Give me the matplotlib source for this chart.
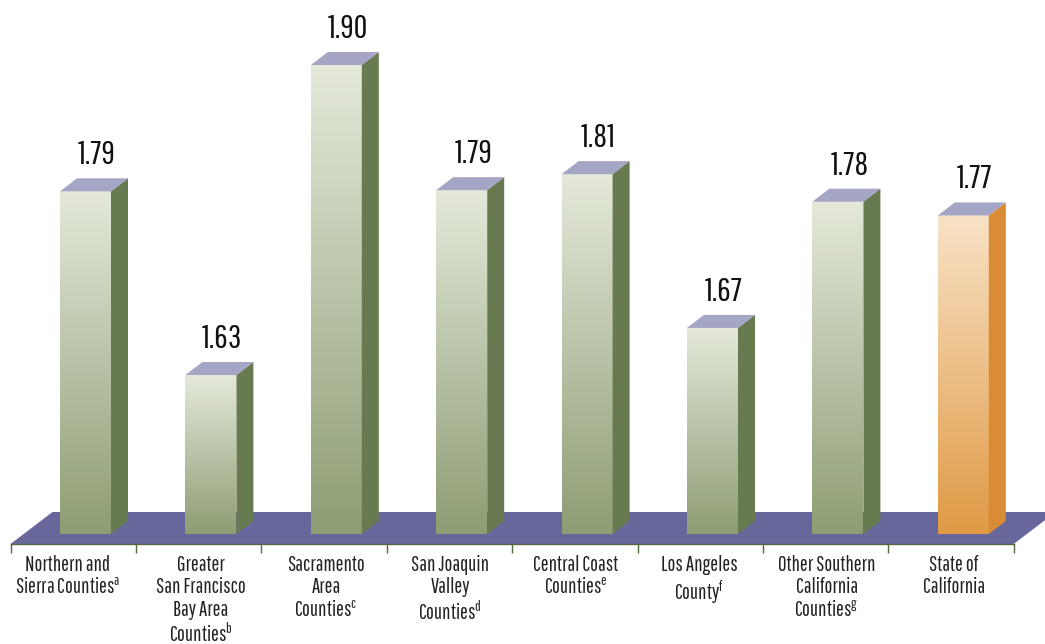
import matplotlib
matplotlib.use('Agg')
import matplotlib.pyplot as plt
import numpy as np
from matplotlib.colors import LinearSegmentedColormap, to_rgb

categories = [
    'Northern and\nSierra Counties$^{a}$',
    'Greater\nSan Francisco\nBay Area\nCounties$^{b}$',
    'Sacramento\nArea\nCounties$^{c}$',
    'San Joaquin\nValley\nCounties$^{d}$',
    'Central Coast\nCounties$^{e}$',
    'Los Angeles\nCounty$^{f}$',
    'Other Southern\nCalifornia\nCounties$^{g}$',
    'State of\nCalifornia',
]
value_labels = ['1.79', '1.63', '1.90', '1.79', '1.81', '1.67', '1.78', '1.77']
# bar heights as drawn (the 1.81 bar is a bit short in the picture)
heights = [1.79, 1.63, 1.90, 1.791, 1.805, 1.671, 1.781, 1.769]

W, H = 1045, 644
px_x = 125.4     # pixels per category
px_y = 1148.0    # pixels per unit of value
base = 1.4915
bar_w = 51 / px_x
depth_x = 17 / px_x
depth_y = 13 / px_y

plt.rcParams['font.family'] = ['Pathway Gothic One', 'Liberation Sans', 'DejaVu Sans']
plt.rcParams['mathtext.default'] = 'regular'
plt.rcParams['mathtext.fontset'] = 'custom'
plt.rcParams['mathtext.rm'] = 'Pathway Gothic One'

fig = plt.figure(figsize=(W / 100, H / 100), dpi=100)
ax = fig.add_axes([0, 0, 1, 1])

x0 = (0 - 85.5) / px_x
x1 = (W - 85.5) / px_x
y_top = base + 534 / px_y
y_bot = base - (H - 534) / px_y

green = ('#e4e9da', '#8e9d74', '#677a50')
orange = ('#f8e2c6', '#e09a45', '#da8c35')
top_color = '#a5a5c6'
floor_color = '#67679b'

# floor
fl = base - 10 / px_y
fl_y2 = base + 22 / px_y
left = -0.5 - 0.098
shift = 42 / px_x
ax.fill([left, left + 8, left + 8 + shift, left + shift],
        [fl, fl, fl_y2, fl_y2], color=floor_color, lw=0, zorder=1)

for i, h in enumerate(heights):
    top_c, bot_c, side_c = orange if i == 7 else green
    cmap = LinearSegmentedColormap.from_list('g', [to_rgb(top_c), to_rgb(bot_c)])
    l, r = i - bar_w / 2, i + bar_w / 2
    ax.imshow(np.linspace(0, 1, 256).reshape(-1, 1), cmap=cmap, aspect='auto',
              extent=(l, r, base, h), origin='upper', zorder=3)
    ax.fill([r, r + depth_x, r + depth_x, r],
            [base, base + depth_y, h + depth_y, h], color=side_c, lw=0, zorder=3)
    ax.fill([l, r, r + depth_x, l + depth_x],
            [h, h, h + depth_y, h + depth_y], color=top_color, lw=0, zorder=3)
    ax.annotate(value_labels[i], (i, h), xytext=(8.3, 26), textcoords='offset points',
                ha='center', va='center', fontsize=24, color='#111111', zorder=4)

ax.set_xlim(x0, x1)
ax.set_ylim(y_bot, y_top)

for s in ['top', 'left', 'right']:
    ax.spines[s].set_visible(False)
ax.patch.set_visible(False)
ax.yaxis.set_visible(False)
ax.spines['bottom'].set_position(('data', fl))
ax.spines['bottom'].set_bounds(left, left + 8)
ax.spines['bottom'].set_color('#56693f')
ax.spines['bottom'].set_linewidth(1.0)

# label centres don't sit exactly mid-category in the picture
label_dx = np.array([-7, 1.5, 1, 0, 0, -2, 0, 2]) / px_x
ax.set_xticks(np.arange(8) - 0.09 + label_dx, categories, fontsize=15, color='#222222', linespacing=1.14)
ax.set_xticks(left + np.arange(9), minor=True)
ax.tick_params(axis='x', which='major', length=0, pad=8)
ax.tick_params(axis='x', which='minor', length=6.5, width=1.0, color='#56693f')

fig.savefig('out.png', dpi=100)
